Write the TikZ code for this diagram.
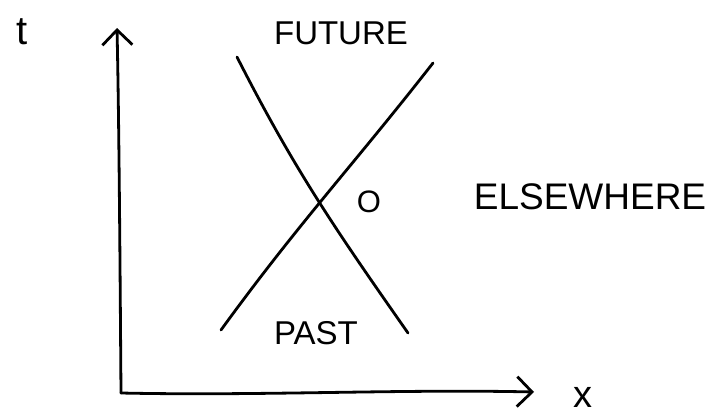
\documentclass[tikz,border=0pt]{standalone}
\usepackage{fontspec}
\setmainfont{Liberation Sans}
\usetikzlibrary{arrows.meta}
\begin{document}
\begin{tikzpicture}[x=1pt,y=-1pt,
  ink/.style={draw=black, line width=2.8pt, line cap=round, line join=round},
  axarrow/.style={ink, -{Straight Barb[length=15pt,width=30pt,line width=2.8pt]}},
  lab/.style={inner sep=0pt, font=\fontsize{33}{36}\selectfont},
  biglab/.style={inner sep=0pt, font=\fontsize{37}{40}\selectfont},
  varlab/.style={inner sep=0pt, font=\fontsize{40}{44}\selectfont}]
\useasboundingbox (0,0) rectangle (707,415);
% axes
\coordinate (orig) at (121,393);
\coordinate (ttop) at (117,28);
\coordinate (xend) at (534,392);
\draw[axarrow] (orig) .. controls (120,260) and (119,120) .. (ttop);
\draw[axarrow] (orig) .. controls (260,396) and (400,389) .. (xend);
% light cone
\coordinate (fa) at (237,57);
\coordinate (fb) at (408,333);
\coordinate (ra) at (433,63);
\coordinate (rb) at (221,330);
\draw[ink] (fa) to[out=-63,in=125] (fb);
\draw[ink] (ra) to[out=-128,in=54] (rb);
% labels
\node[varlab] (tl) at (22,32) {t};
\node[varlab, font=\fontsize{38}{40}\selectfont] (xl) at (583,397) {x};
\node[lab] (fut) at (341,33) {FUTURE};
\node[lab] (past) at (316,333) {PAST};
\node[biglab] (else) at (590,197) {ELSEWHERE};
\node[inner sep=0pt, font=\fontsize{31}{33}\selectfont] (ol) at (369,202) {O};
\end{tikzpicture}
\end{document}
